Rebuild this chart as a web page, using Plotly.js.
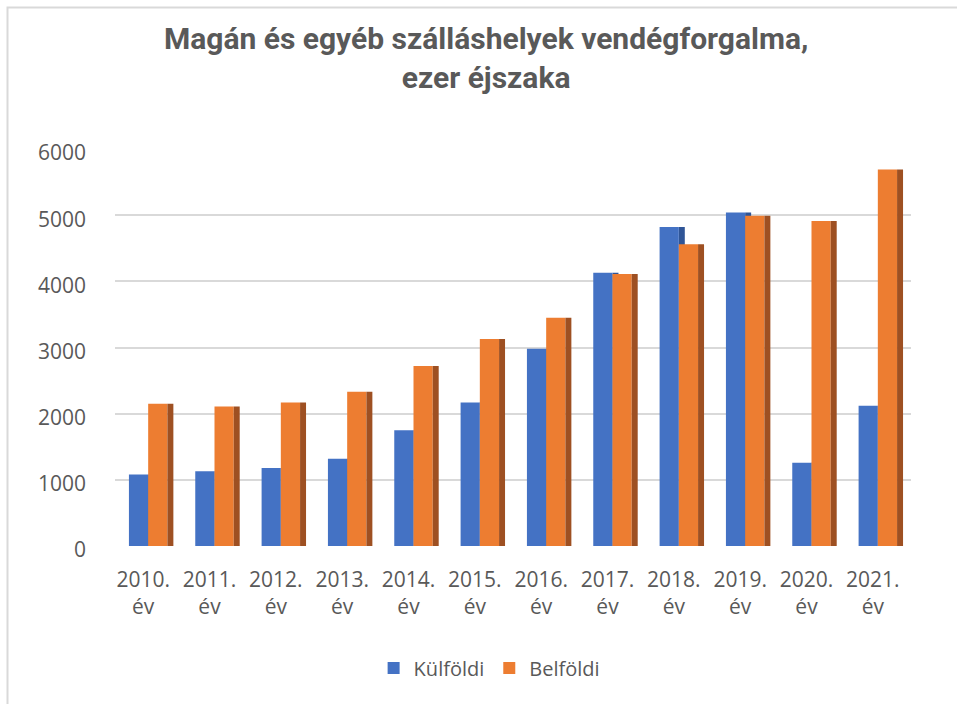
<!DOCTYPE html>
<html><head><meta charset="utf-8">
<script src="https://cdn.plot.ly/plotly-3.0.1.min.js"></script>
<style>html,body{margin:0;padding:0;background:#fff}#chart{width:957px;height:704px}</style>
</head><body><div id="chart"></div>
<script>
const categories = ["2010.<br>év","2011.<br>év","2012.<br>év","2013.<br>év","2014.<br>év","2015.<br>év","2016.<br>év","2017.<br>év","2018.<br>év","2019.<br>év","2020.<br>év","2021.<br>év"];
const kulfoldi = [1080,1130,1180,1320,1750,2170,2980,4130,4820,5040,1260,2120];
const belfoldi = [2150,2110,2170,2330,2720,3130,3450,4110,4560,4990,4910,5690];
const yTicks = [0,1000,2000,3000,4000,5000,6000];

const W = 0.29, D = 0.09;
const traces = [
  {type:'bar', x:categories, y:kulfoldi, offset:0, width:D, marker:{color:'#2f5597'}, showlegend:false, hoverinfo:'skip'},
  {type:'bar', name:'Külföldi', x:categories, y:kulfoldi, offset:-W, width:W, marker:{color:'#4472c4'}},
  {type:'bar', name:'Belföldi', x:categories, y:belfoldi, offset:0, width:W, marker:{color:'#ed7d31'}},
  {type:'bar', x:categories, y:belfoldi, offset:W, width:D, marker:{color:'#9e5022'}, showlegend:false, hoverinfo:'skip'}
];
const tf = {family:'Open Sans, sans-serif', size:21, color:'#595959'};
// plot area: l=115, r=46 -> width 796; t=149, b=158 -> height 397
const layout = {
  width:957, height:704,
  paper_bgcolor:'#fff', plot_bgcolor:'#fff',
  margin:{l:115, r:46, t:149, b:158},
  barmode:'overlay',
  title:{text:'<b>Magán és egyéb szálláshelyek vendégforgalma,<br>ezer éjszaka</b>', x:0.508, xanchor:'center', y:0.93, yanchor:'top',
    font:{family:'Roboto, sans-serif', size:30, color:'#595959'}},
  xaxis:{type:'category', tickfont:tf, showgrid:false, zeroline:false, showline:false, ticks:'', ticklabelstandoff:19, ticklabelshift:-5},
  yaxis:{range:[0,6000], tickvals:yTicks, tickfont:tf, showgrid:true, gridcolor:'#d9d9d9', gridwidth:2, zeroline:false, showline:false, ticks:'', ticklabelstandoff:28, ticklabelshift:4},
  legend:{orientation:'h', x:0.47, xanchor:'center', y:-0.307, yanchor:'middle', font:{family:'Open Sans, sans-serif', size:20, color:'#595959'}},
  shapes:[{type:'rect', xref:'paper', yref:'paper', x0:(7.5-115)/796, x1:(990-115)/796, y0:(546-740)/397, y1:(546-7.5)/397, line:{color:'#d9d9d9', width:2}, fillcolor:'rgba(0,0,0,0)', layer:'below'}],
  showlegend:true
};
Plotly.newPlot('chart', traces, layout, {displayModeBar:false, staticPlot:true});
</script></body></html>
